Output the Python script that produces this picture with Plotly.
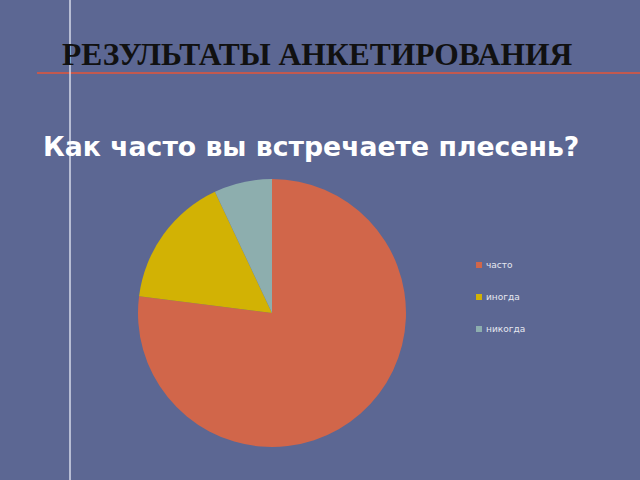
import plotly.graph_objects as go

labels = ["часто", "иногда", "никогда"]
values = [77, 16, 7]
colors = ["#D1664A", "#D2B204", "#8DAEAE"]

title_text = "РЕЗУЛЬТАТЫ АНКЕТИРОВАНИЯ"
subtitle_text = "Как часто вы встречаете плесень?"

fig = go.Figure()
fig.add_trace(go.Pie(
    labels=labels, values=values, sort=False, direction="clockwise", rotation=0,
    marker=dict(colors=colors, line=dict(width=0)),
    textinfo="none", hoverinfo="label+value", showlegend=False,
    domain=dict(x=[138/640, 406/640], y=[32/480, 302/480]),
))

shapes = [
    dict(type="line", xref="paper", yref="paper", x0=37/640, x1=1, y0=1-73/480, y1=1-73/480,
         line=dict(color="#C2594F", width=2)),
    dict(type="line", xref="paper", yref="paper", x0=70/640, x1=70/640, y0=0, y1=1,
         line=dict(color="rgba(235,238,250,0.85)", width=1.5)),
]
annotations = [
    dict(text="<b>" + title_text + "</b>", xref="paper", yref="paper", x=60/640, y=1-54/480,
         xanchor="left", yanchor="middle", showarrow=False,
         font=dict(family="Liberation Serif", size=31.5, color="#111111")),
    dict(text="<b>" + subtitle_text + "</b>", xref="paper", yref="paper", x=41/640, y=1-146/480,
         xanchor="left", yanchor="middle", showarrow=False,
         font=dict(family="DejaVu Sans", size=26.7, color="#FFFFFF")),
]
leg_y = [265, 297, 329]
for lab, col, yy in zip(labels, colors, leg_y):
    shapes.append(dict(type="rect", xref="paper", yref="paper",
                       x0=476/640, x1=482/640, y0=1-(yy+3)/480, y1=1-(yy-3)/480,
                       fillcolor=col, line=dict(width=0)))
    annotations.append(dict(text=lab, xref="paper", yref="paper", x=484/640, y=1-yy/480,
                            xanchor="left", yanchor="middle", showarrow=False,
                            font=dict(family="DejaVu Sans", size=9, color="#E6E8F0")))

fig.update_layout(
    width=640, height=480, margin=dict(l=0, r=0, t=0, b=0),
    paper_bgcolor="#5C6793", plot_bgcolor="#5C6793",
    shapes=shapes, annotations=annotations,
)
fig.write_html("out.html", config={"displayModeBar": False},
               post_script="document.body.style.margin='0';document.body.style.overflow='hidden';document.body.style.background='#5C6793';")
